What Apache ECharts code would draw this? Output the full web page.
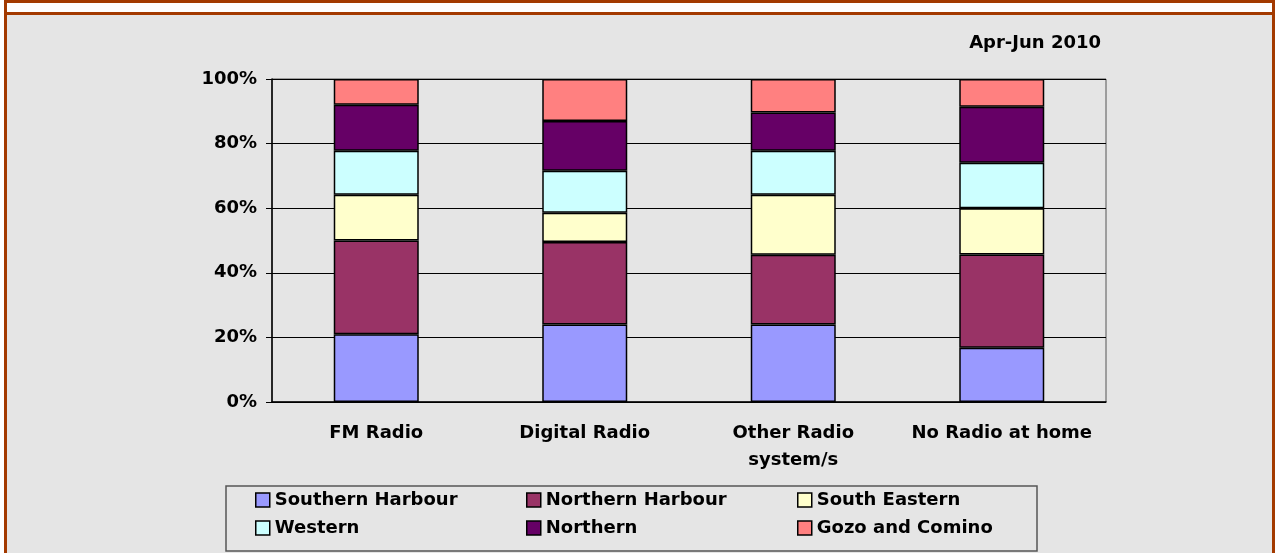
<!DOCTYPE html>
<html>
<head>
<meta charset="utf-8">
<script src="https://cdn.jsdelivr.net/npm/echarts@6/dist/echarts.min.js"></script>
<style>
	body { margin: 0; background: #fff; }
	#outer {
		position: absolute; left: 4px; top: 0; width: 1265px; height: 553px;
		border: 3px solid #A33A00; border-bottom: none; background: #fff;
	}
	#main {
		position: absolute; left: 0; top: 9px; width: 1265px; height: 538px;
		border-top: 3px solid #A33A00; background: #E5E5E5;
	}
</style>
</head>
<body>
<div id="outer"><div id="main"></div></div>
<script>
	// 数据
	var categories = ['FM Radio', 'Digital Radio', 'Other Radio\nsystem/s', 'No Radio at home'];
	var southernHarbour = [21.0, 24.0, 24.0, 16.8];
	var northernHarbour = [29.0, 25.5, 21.6, 28.9];
	var southEastern = [14.2, 9.1, 18.6, 14.3];
	var western = [13.6, 13.0, 13.6, 14.1];
	var northern = [14.2, 15.4, 11.8, 17.3];
	var gozoComino = [8.0, 13.0, 10.4, 8.6];
	var yTicks = [0, 20, 40, 60, 80, 100];

	var font = "'DejaVu Sans', Arial, sans-serif";
	var names = ['Southern Harbour', 'Northern Harbour', 'South Eastern', 'Western', 'Northern', 'Gozo and Comino'];
	var colors = ['#9999FF', '#993366', '#FFFFCC', '#CCFFFF', '#660066', '#FF8080'];
	var values = [southernHarbour, northernHarbour, southEastern, western, northern, gozoComino];

	// legend 位置 (3列2行)
	var legendPos = [[248, 489], [519, 489], [790, 489], [248, 517], [519, 517], [790, 517]];
	var legends = names.map(function(n, i) {
		return {
			data: [n],
			left: legendPos[i][0],
			top: legendPos[i][1] - 15,
			padding: 0,
			icon: 'rect',
			itemWidth: 14,
			itemHeight: 14,
			itemStyle: { borderColor: '#000', borderWidth: 1.5 },
			selectedMode: false,
			textStyle: { fontFamily: font, fontWeight: 'bold', fontSize: 18, color: '#000', lineHeight: 22 }
		};
	});

	var series = names.map(function(n, i) {
		return {
			name: n,
			type: 'bar',
			stack: 'all',
			barWidth: 85,
			data: values[i],
			itemStyle: { color: colors[i], borderColor: '#000', borderWidth: 1.5 },
			emphasis: { disabled: true }
		};
	});

	var chart = echarts.init(document.getElementById('main'));
	chart.setOption({
		animation: false,
		backgroundColor: '#E5E5E5',
		title: {
			text: 'Apr-Jun 2010',
			right: 166,
			top: 14,
			textStyle: { fontFamily: font, fontWeight: 'bold', fontSize: 18, color: '#000' }
		},
		legend: legends,
		graphic: [{
			type: 'rect',
			shape: { x: 219, y: 471, width: 811, height: 65 },
			style: { fill: 'none', stroke: '#555', lineWidth: 1.5 }
		}],
		grid: {
			left: 265, right: 166, top: 64, bottom: 151,
			show: true, borderColor: '#555', borderWidth: 1, backgroundColor: 'transparent'
		},
		xAxis: {
			type: 'category',
			data: categories,
			axisLine: { lineStyle: { color: '#000', width: 1.5 } },
			axisTick: { length: 5, lineStyle: { color: '#000' } },
			axisLabel: {
				interval: 0,
				margin: 18, fontFamily: font, fontWeight: 'bold', fontSize: 18,
				color: '#000', lineHeight: 27
			}
		},
		yAxis: {
			type: 'value',
			min: yTicks[0],
			max: yTicks[yTicks.length - 1],
			interval: 20,
			axisLine: { show: true, lineStyle: { color: '#000', width: 1.5 } },
			axisTick: { show: true, length: 6, lineStyle: { color: '#000' } },
			splitLine: { lineStyle: { color: '#000', width: 1 } },
			axisLabel: {
				margin: 15, fontFamily: font, fontWeight: 'bold', fontSize: 18,
				color: '#000', formatter: '{value}%'
			}
		},
		series: series
	});
</script>
</body>
</html>
